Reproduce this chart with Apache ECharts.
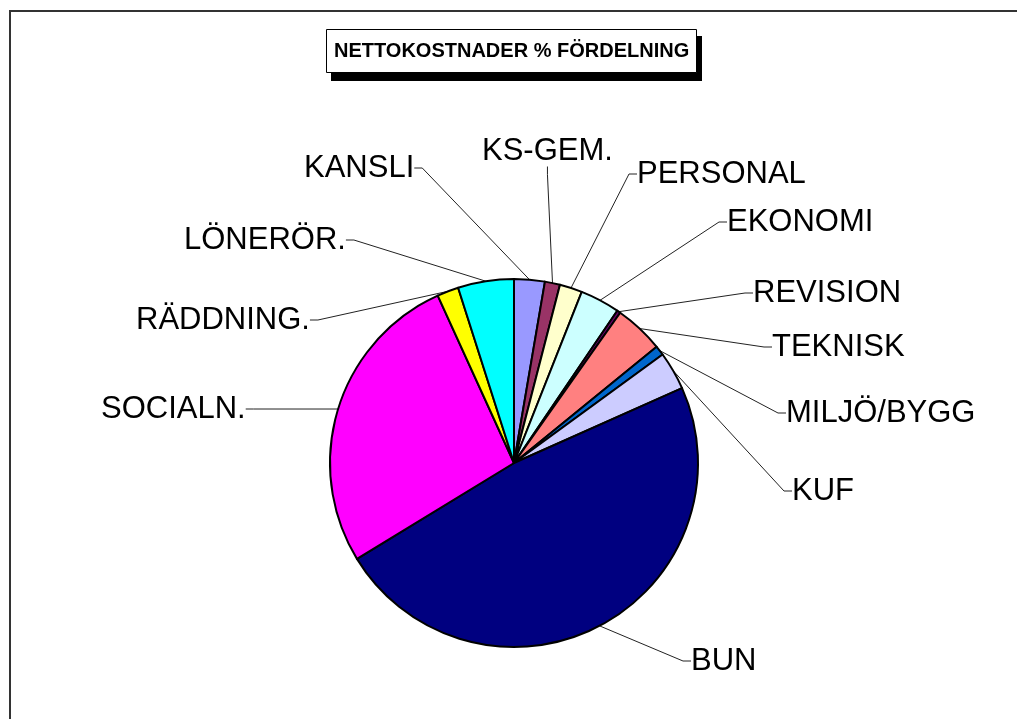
<!DOCTYPE html>
<html>
<head>
<meta charset="utf-8">
<script src="https://cdn.jsdelivr.net/npm/echarts@6/dist/echarts.min.js"></script>
<style>
html,body{margin:0;padding:0;background:#fff;}
#chart{width:1017px;height:719px;}
</style>
</head>
<body>
<div id="chart"></div>
<script>
// ---- data ----
const categories = ['KANSLI','KS-GEM.','PERSONAL','EKONOMI','REVISION','TEKNISK','MILJÖ/BYGG','KUF','BUN','SOCIALN.','RÄDDNING.','LÖNERÖR.'];
const shares = [2.69, 1.33, 1.98, 3.48, 0.31, 4.33, 0.84, 3.36, 47.95, 26.92, 1.89, 4.91];
const titleText = 'NETTOKOSTNADER % FÖRDELNING';

// ---- styling (not data) ----
const sliceColors = ['#9999FF','#993366','#FFFFCC','#CCFFFF','#660066','#FF8080','#0066CC','#CCCCFF','#000080','#FF00FF','#FFFF00','#00FFFF'];
// label text anchor (left edge, vertical middle) — text placement only
const labelAnchors = [[304,168],[482,151],[637,174],[727,222],[753,293],[772,347],[786,413],[792,491],[691,661],[101,409],[136,320],[184,240]];

const chart = echarts.init(document.getElementById('chart'), null, {renderer:'canvas'});
const FONT = '"Liberation Sans", Arial, sans-serif';

chart.setOption({
  animation: false,
  backgroundColor: '#ffffff',
  title: {
    text: titleText,
    left: 326,
    top: 29,
    padding: [12, 8],
    backgroundColor: '#ffffff',
    borderColor: '#000000',
    borderWidth: 1,
    z: 10,
    textStyle: {fontFamily: FONT, fontSize: 20, fontWeight: 'bold', color: '#000', lineHeight: 20}
  },
  graphic: [{
    type: 'polyline',
    shape: {points: [[10, 730], [10, 11], [1030, 11]]},
    style: {stroke: '#333333', lineWidth: 2, fill: null},
    silent: true,
    z: 0
  }, {
    type: 'rect',
    shape: {x: 331, y: 36, width: 371, height: 45},
    style: {fill: '#000000'},
    silent: true,
    z: 0
  }],
  series: [{
    type: 'pie',
    center: [514, 463],
    radius: 184,
    startAngle: 90,
    clockwise: true,
    avoidLabelOverlap: false,
    data: categories.map((c, i) => ({name: c, value: shares[i], itemStyle: {color: sliceColors[i]}})),
    itemStyle: {borderColor: '#000', borderWidth: 2},
    label: {
      show: true,
      formatter: '{b}',
      fontFamily: FONT,
      fontSize: 31,
      color: '#000'
    },
    labelLine: {show: true, length: 20, length2: 8, lineStyle: {color: '#222', width: 1}},
    labelLayout: function (params) {
      const a = labelAnchors[params.dataIndex];
      return {x: a[0], y: a[1], align: 'left', verticalAlign: 'middle'};
    },
    emphasis: {disabled: true}
  }]
});
</script>
</body>
</html>
